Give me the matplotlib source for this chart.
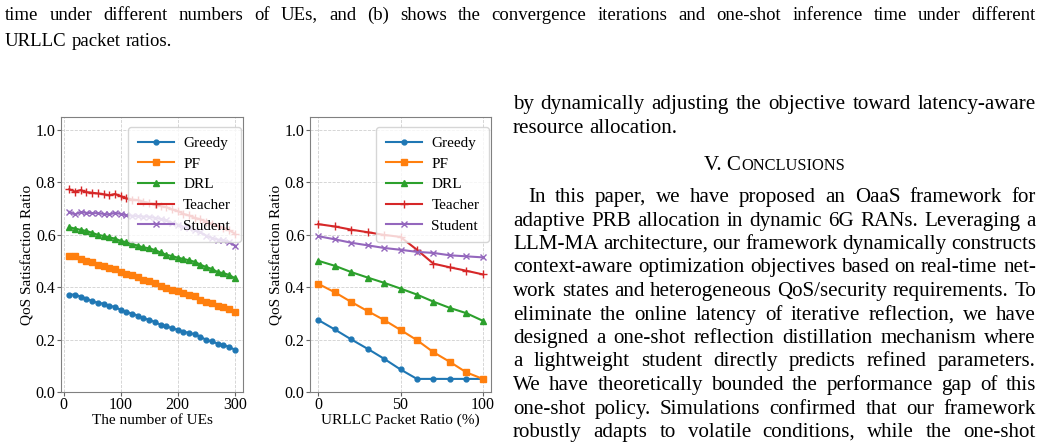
import numpy as np
import matplotlib
matplotlib.use('Agg')
import matplotlib.pyplot as plt
from matplotlib.font_manager import FontProperties

plt.rcParams['font.family'] = ['Liberation Serif', 'DejaVu Serif']

# (a) QoS vs number of UEs
ues = list(range(10, 310, 10))
greedy_ue = [0.372, 0.372, 0.364, 0.357, 0.346, 0.341, 0.337, 0.329, 0.325, 0.314,
             0.306, 0.299, 0.292, 0.281, 0.276, 0.267, 0.257, 0.252, 0.243, 0.238,
             0.231, 0.225, 0.221, 0.211, 0.199, 0.193, 0.185, 0.180, 0.172, 0.162]
pf_ue = [0.518, 0.518, 0.509, 0.501, 0.495, 0.486, 0.483, 0.473, 0.470, 0.460,
         0.452, 0.445, 0.441, 0.428, 0.425, 0.416, 0.405, 0.399, 0.390, 0.384,
         0.377, 0.371, 0.365, 0.352, 0.343, 0.339, 0.330, 0.324, 0.316, 0.307]
drl_ue = [0.629, 0.624, 0.619, 0.615, 0.608, 0.600, 0.596, 0.590, 0.586, 0.577,
          0.572, 0.565, 0.559, 0.552, 0.549, 0.542, 0.533, 0.524, 0.519, 0.513,
          0.508, 0.503, 0.497, 0.486, 0.477, 0.470, 0.458, 0.454, 0.447, 0.435]
teacher_ue = [0.774, 0.765, 0.771, 0.763, 0.761, 0.758, 0.755, 0.751, 0.756, 0.748,
              0.739, 0.735, 0.733, 0.726, 0.722, 0.719, 0.710, 0.706, 0.697, 0.691,
              0.680, 0.674, 0.665, 0.659, 0.650, 0.642, 0.633, 0.627, 0.618, 0.605]
student_ue = [0.688, 0.678, 0.687, 0.684, 0.683, 0.683, 0.680, 0.678, 0.684, 0.680,
              0.675, 0.673, 0.671, 0.670, 0.669, 0.665, 0.661, 0.655, 0.646, 0.639,
              0.630, 0.627, 0.618, 0.610, 0.597, 0.588, 0.582, 0.579, 0.573, 0.559]

# (b) QoS vs URLLC packet ratio
ratio = list(range(0, 110, 10))
greedy_r = [0.275, 0.239, 0.201, 0.165, 0.127, 0.086, 0.05, 0.05, 0.05, 0.05, 0.05]
pf_r = [0.413, 0.381, 0.344, 0.309, 0.275, 0.237, 0.198, 0.152, 0.115, 0.075, 0.05]
drl_r = [0.501, 0.482, 0.458, 0.437, 0.417, 0.395, 0.372, 0.345, 0.321, 0.301, 0.272]
teacher_r = [0.641, 0.632, 0.620, 0.610, 0.600, 0.592, 0.543, 0.490, 0.476, 0.463, 0.449]
student_r = [0.595, 0.583, 0.570, 0.560, 0.550, 0.543, 0.535, 0.531, 0.522, 0.518, 0.514]

labels = ['Greedy', 'PF', 'DRL', 'Teacher', 'Student']
markers = ['o', 's', '^', '+', 'x']
msizes = [3.5, 4, 4, 6, 5]

caption = ["time under different numbers of UEs, and (b) shows the convergence iterations and one-shot inference time under different",
           "URLLC packet ratios."]
col_top = ["by dynamically adjusting the objective toward latency-aware",
           "resource allocation."]
col_par = ["In this paper, we have proposed an OaaS framework for",
           "adaptive PRB allocation in dynamic 6G RANs. Leveraging a",
           "LLM-MA architecture, our framework dynamically constructs",
           "context-aware optimization objectives based on real-time net-",
           "work states and heterogeneous QoS/security requirements. To",
           "eliminate the online latency of iterative reflection, we have",
           "designed a one-shot reflection distillation mechanism where",
           "a lightweight student directly predicts refined parameters.",
           "We have theoretically bounded the performance gap of this",
           "one-shot policy. Simulations confirmed that our framework",
           "robustly adapts to volatile conditions, while the one-shot"]

W, H = 1042, 443
fig = plt.figure(figsize=(W / 100, H / 100), dpi=100)
renderer = fig.canvas.get_renderer()


def adv(s, size):
    # advance width of s: pad with x on both sides so ink bounds cancel out
    t1 = fig.text(0, 0, 'x' + s + 'x', fontsize=size)
    t2 = fig.text(0, 0, 'xx', fontsize=size)
    w = t1.get_window_extent(renderer).width - t2.get_window_extent(renderer).width
    t1.remove()
    t2.remove()
    return w


def put_word(s, x, base, size):
    # shift each word so Agg's pixel rounding lands every baseline on the same row
    _, h, d = renderer.get_text_width_height_descent(s, FontProperties(size=size), ismath=False)
    a = h - d
    yb = base + np.floor(a + d) - np.floor(a) - d
    fig.text(x / W, 1 - yb / H, s, fontsize=size, va='baseline', ha='left')


def text_line(s, x0, x1, base, size, justify=True):
    # words are drawn one by one so the line can be justified like the page
    words = s.split()
    widths = [adv(w, size) for w in words]
    gap = adv(' ', size)
    if justify and len(words) > 1:
        gap = (x1 - x0 - sum(widths)) / (len(words) - 1)
    x = x0
    for w, wd in zip(words, widths):
        put_word(w, x, base, size)
        x += wd + gap


# page text
body = 15.1
text_line(caption[0], 5, 1036, 20, 13.5)
text_line(caption[1], 5, 1036, 46, 13.5, justify=False)
text_line(col_top[0], 513, 1036, 109, body)
text_line(col_top[1], 513, 1036, 133, body, justify=False)

sc = body * 0.78
w1 = adv('V. C', body)
w2 = adv('ONCLUSIONS', sc)
hx = 774.5 - (w1 + w2) / 2
put_word('V. C', hx, 170, body)
put_word('ONCLUSIONS', hx + w1, 170, sc)

for i, line in enumerate(col_par):
    x0 = 528 if i == 0 else 513
    text_line(line, x0, 1036, round(202 + 23.5 * i), body)

# charts
ax1 = fig.add_axes([61 / W, 1 - 392 / H, 182 / W, 275 / H])
ax2 = fig.add_axes([310 / W, 1 - 392 / H, 181 / W, 275 / H])

for ax, xs, series, xlabel, xt in [
        (ax1, ues, [greedy_ue, pf_ue, drl_ue, teacher_ue, student_ue], 'The number of UEs', [0, 100, 200, 300]),
        (ax2, ratio, [greedy_r, pf_r, drl_r, teacher_r, student_r], 'URLLC Packet Ratio (%)', [0, 50, 100])]:
    for ys, lab, m, ms in zip(series, labels, markers, msizes):
        ax.plot(xs, ys, marker=m, markersize=ms, linewidth=1.5, label=lab)
    ax.set_ylim(0, 1.05)
    ax.set_yticks([0.0, 0.2, 0.4, 0.6, 0.8, 1.0])
    ax.set_xticks(xt)
    ax.grid(True, linestyle='--', linewidth=0.6, color='#d0d0d0')
    ax.set_xlabel(xlabel, fontsize=11, labelpad=0.5)
    ax.set_ylabel('QoS Satisfaction Ratio', fontsize=11, labelpad=1)
    ax.tick_params(labelsize=11.5, color='0.4', length=3, pad=0.8)
    for sp in ax.spines.values():
        sp.set_color('0.5')
    ax.legend(loc='upper right', bbox_to_anchor=(0.99, 0.965), borderaxespad=0,
              fontsize=11, handlelength=2.35, handletextpad=0.6,
              borderpad=0.65, labelspacing=0.45)

fig.savefig('out.png', dpi=100)
